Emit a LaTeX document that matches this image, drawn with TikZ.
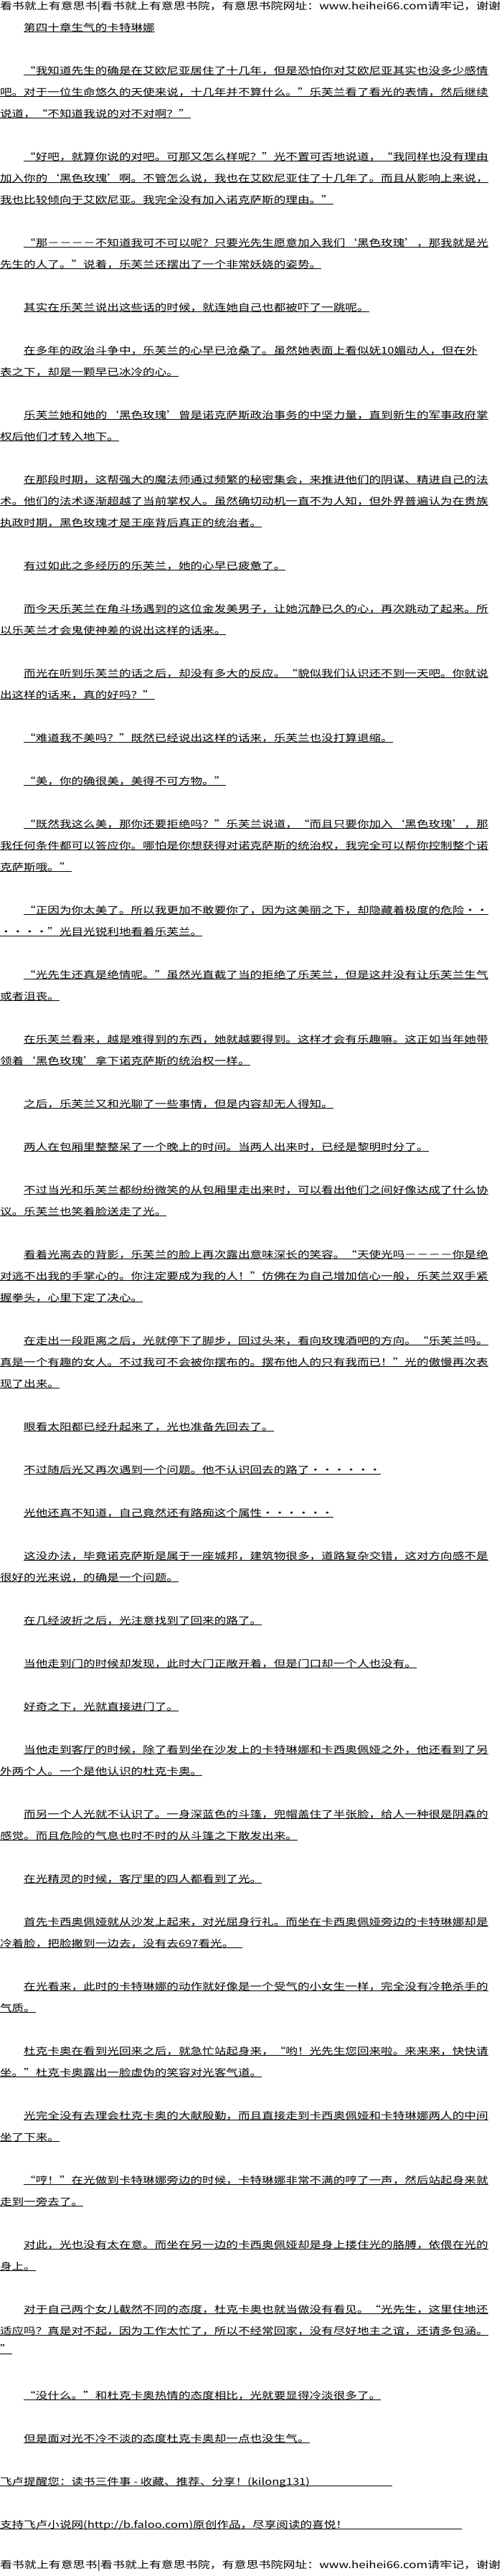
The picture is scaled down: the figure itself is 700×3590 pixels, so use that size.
\documentclass[tikz,border=0pt]{standalone}
\usepackage{fontspec}
\usepackage{graphicx}
\setmainfont{Noto Sans CJK SC}
\newcommand\bodyfont{\fontsize{16.6pt}{20pt}\selectfont}
\newcommand\hdrfont{\fontsize{17.3pt}{20pt}\selectfont}
\newcommand\Qo{\makebox[1em][r]{“}}
\newcommand\Qc{\makebox[1em][l]{”}}
\newcommand\Qso{\makebox[1em][r]{‘}}
\newcommand\Qsc{\makebox[1em][l]{’}}
\newcommand\hdrtext{\resizebox{698pt}{!}{\scalebox{1}[0.8]{看书就上有意思书|看书就上有意思书院，有意思书院网址：www.heihei66.com请牢记，谢谢}}}
\tikzset{
  txt/.style={anchor=base west, inner sep=0pt, outer sep=0pt, font=\bodyfont, text=black},
  hdr/.style={anchor=west, inner sep=0pt, outer sep=0pt, font=\hdrfont, text=black},
  ul/.style={line width=0.9pt, draw=black}
}
% name, x, line index, text
\newcommand\txtline[4]{%
  \node[txt] (#1) at (#2,{103+30*(#3)}) {\scalebox{1}[0.8]{#4}};
  \draw[ul] ([yshift=-1.5pt]#1.base west) -- ([yshift=-1.5pt]#1.base east);
}
% name, x, line index, underline end x, text
\newcommand\txtlineext[5]{%
  \node[txt] (#1) at (#2,{103+30*(#3)}) {\scalebox{1}[0.8]{#5}};
  \coordinate (#1e) at (#4,{103+30*(#3)});
  \draw[ul] ([yshift=-1.5pt]#1.base west) -- ([yshift=-1.5pt]#1e);
}
\begin{document}
\begin{tikzpicture}[x=1pt,y=-1pt]
\fill[white] (0,0) rectangle (700,3590);
\useasboundingbox (0,0) rectangle (700,3590);
\def\ind{33.2}
\node[hdr] (hdrtop) at (0,10) {\hdrtext};
\txtline{title}{\ind}{-2}{第四十章生气的卡特琳娜}
\txtline{l0}{\ind}{0}{\Qo{}我知道先生的确是在艾欧尼亚居住了十几年，但是恐怕你对艾欧尼亚其实也没多少感情}
\txtline{l1}{0}{1}{吧。对于一位生命悠久的天使来说，十几年并不算什么。\Qc{}乐芙兰看了看光的表情，然后继续}
\txtline{l2}{0}{2}{说道，\Qo{}不知道我说的对不对啊？\Qc{}}
\txtline{l4}{\ind}{4}{\Qo{}好吧，就算你说的对吧。可那又怎么样呢？\Qc{}光不置可否地说道，\Qo{}我同样也没有理由}
\txtline{l5}{0}{5}{加入你的\Qso{}黑色玫瑰\Qsc{}啊。不管怎么说，我也在艾欧尼亚住了十几年了。而且从影响上来说，}
\txtline{l6}{0}{6}{我也比较倾向于艾欧尼亚。我完全没有加入诺克萨斯的理由。\Qc{}}
\txtline{l8}{\ind}{8}{\Qo{}那－－－－不知道我可不可以呢？只要光先生愿意加入我们\Qso{}黑色玫瑰\Qsc{}，那我就是光}
\txtline{l9}{0}{9}{先生的人了。\Qc{}说着，乐芙兰还摆出了一个非常妖娆的姿势。}
\txtline{l11}{\ind}{11}{其实在乐芙兰说出这些话的时候，就连她自己也都被吓了一跳呢。}
\txtline{l13}{\ind}{13}{在多年的政治斗争中，乐芙兰的心早已沧桑了。虽然她表面上看似妩10媚动人，但在外}
\txtline{l14}{0}{14}{表之下，却是一颗早已冰冷的心。}
\txtline{l16}{\ind}{16}{乐芙兰她和她的\Qso{}黑色玫瑰\Qsc{}曾是诺克萨斯政治事务的中坚力量，直到新生的军事政府掌}
\txtline{l17}{0}{17}{权后他们才转入地下。}
\txtline{l19}{\ind}{19}{在那段时期，这帮强大的魔法师通过频繁的秘密集会，来推进他们的阴谋、精进自己的法}
\txtline{l20}{0}{20}{术。他们的法术逐渐超越了当前掌权人。虽然确切动机一直不为人知，但外界普遍认为在贵族}
\txtline{l21}{0}{21}{执政时期，黑色玫瑰才是王座背后真正的统治者。}
\txtline{l23}{\ind}{23}{有过如此之多经历的乐芙兰，她的心早已疲惫了。}
\txtline{l25}{\ind}{25}{而今天乐芙兰在角斗场遇到的这位金发美男子，让她沉静已久的心，再次跳动了起来。所}
\txtline{l26}{0}{26}{以乐芙兰才会鬼使神差的说出这样的话来。}
\txtline{l28}{\ind}{28}{而光在听到乐芙兰的话之后，却没有多大的反应。\Qo{}貌似我们认识还不到一天吧。你就说}
\txtline{l29}{0}{29}{出这样的话来，真的好吗？\Qc{}}
\txtline{l31}{\ind}{31}{\Qo{}难道我不美吗？\Qc{}既然已经说出这样的话来，乐芙兰也没打算退缩。}
\txtline{l33}{\ind}{33}{\Qo{}美，你的确很美，美得不可方物。\Qc{}}
\txtline{l35}{\ind}{35}{\Qo{}既然我这么美，那你还要拒绝吗？\Qc{}乐芙兰说道，\Qo{}而且只要你加入\Qso{}黑色玫瑰\Qsc{}，那}
\txtline{l36}{0}{36}{我任何条件都可以答应你。哪怕是你想获得对诺克萨斯的统治权，我完全可以帮你控制整个诺}
\txtline{l37}{0}{37}{克萨斯哦。\Qc{}}
\txtline{l39}{\ind}{39}{\Qo{}正因为你太美了。所以我更加不敢要你了，因为这美丽之下，却隐藏着极度的危险・・}
\txtline{l40}{0}{40}{・・・・\Qc{}光目光锐利地看着乐芙兰。}
\txtline{l42}{\ind}{42}{\Qo{}光先生还真是绝情呢。\Qc{}虽然光直截了当的拒绝了乐芙兰，但是这并没有让乐芙兰生气}
\txtline{l43}{0}{43}{或者沮丧。}
\txtline{l45}{\ind}{45}{在乐芙兰看来，越是难得到的东西，她就越要得到。这样才会有乐趣嘛。这正如当年她带}
\txtline{l46}{0}{46}{领着\Qso{}黑色玫瑰\Qsc{}拿下诺克萨斯的统治权一样。}
\txtline{l48}{\ind}{48}{之后，乐芙兰又和光聊了一些事情，但是内容却无人得知。}
\txtline{l50}{\ind}{50}{两人在包厢里整整呆了一个晚上的时间。当两人出来时，已经是黎明时分了。}
\txtline{l52}{\ind}{52}{不过当光和乐芙兰都纷纷微笑的从包厢里走出来时，可以看出他们之间好像达成了什么协}
\txtline{l53}{0}{53}{议。乐芙兰也笑着脸送走了光。}
\txtline{l55}{\ind}{55}{看着光离去的背影，乐芙兰的脸上再次露出意味深长的笑容。\Qo{}天使光吗－－－－你是绝}
\txtline{l56}{0}{56}{对逃不出我的手掌心的。你注定要成为我的人！\Qc{}仿佛在为自己增加信心一般，乐芙兰双手紧}
\txtline{l57}{0}{57}{握拳头，心里下定了决心。}
\txtline{l59}{\ind}{59}{在走出一段距离之后，光就停下了脚步，回过头来，看向玫瑰酒吧的方向。\Qo{}乐芙兰吗。}
\txtline{l60}{0}{60}{真是一个有趣的女人。不过我可不会被你摆布的。摆布他人的只有我而已！\Qc{}光的傲慢再次表}
\txtline{l61}{0}{61}{现了出来。}
\txtline{l63}{\ind}{63}{眼看太阳都已经升起来了，光也准备先回去了。}
\txtline{l65}{\ind}{65}{不过随后光又再次遇到一个问题。他不认识回去的路了・・・・・・}
\txtline{l67}{\ind}{67}{光他还真不知道，自己竟然还有路痴这个属性・・・・・・}
\txtline{l69}{\ind}{69}{这没办法，毕竟诺克萨斯是属于一座城邦，建筑物很多，道路复杂交错，这对方向感不是}
\txtline{l70}{0}{70}{很好的光来说，的确是一个问题。}
\txtline{l72}{\ind}{72}{在几经波折之后，光注意找到了回来的路了。}
\txtline{l74}{\ind}{74}{当他走到门的时候却发现，此时大门正敞开着，但是门口却一个人也没有。}
\txtline{l76}{\ind}{76}{好奇之下，光就直接进门了。}
\txtline{l78}{\ind}{78}{当他走到客厅的时候，除了看到坐在沙发上的卡特琳娜和卡西奥佩娅之外，他还看到了另}
\txtline{l79}{0}{79}{外两个人。一个是他认识的杜克卡奥。}
\txtline{l81}{\ind}{81}{而另一个人光就不认识了。一身深蓝色的斗篷，兜帽盖住了半张脸，给人一种很是阴森的}
\txtline{l82}{0}{82}{感觉。而且危险的气息也时不时的从斗篷之下散发出来。}
\txtline{l84}{\ind}{84}{在光精灵的时候，客厅里的四人都看到了光。}
\txtline{l86}{\ind}{86}{首先卡西奥佩娅就从沙发上起来，对光屈身行礼。而坐在卡西奥佩娅旁边的卡特琳娜却是}
\txtlineext{l87}{0}{87}{338}{冷着脸，把脸撇到一边去，没有去697看光。}
\txtline{l89}{\ind}{89}{在光看来，此时的卡特琳娜的动作就好像是一个受气的小女生一样，完全没有冷艳杀手的}
\txtline{l90}{0}{90}{气质。}
\txtline{l92}{\ind}{92}{杜克卡奥在看到光回来之后，就急忙站起身来，\Qo{}哟！光先生您回来啦。来来来，快快请}
\txtline{l93}{0}{93}{坐。\Qc{}杜克卡奥露出一脸虚伪的笑容对光客气道。}
\txtline{l95}{\ind}{95}{光完全没有去理会杜克卡奥的大献殷勤，而且直接走到卡西奥佩娅和卡特琳娜两人的中间}
\txtline{l96}{0}{96}{坐了下来。}
\txtline{l98}{\ind}{98}{\Qo{}哼！\Qc{}在光做到卡特琳娜旁边的时候，卡特琳娜非常不满的哼了一声，然后站起身来就}
\txtline{l99}{0}{99}{走到一旁去了。}
\txtline{l101}{\ind}{101}{对此，光也没有太在意。而坐在另一边的卡西奥佩娅却是身上搂住光的胳膊，依偎在光的}
\txtline{l102}{0}{102}{身上。}
\txtline{l104}{\ind}{104}{对于自己两个女儿截然不同的态度，杜克卡奥也就当做没有看见。\Qo{}光先生，这里住地还}
\txtline{l105}{0}{105}{适应吗？真是对不起，因为工作太忙了，所以不经常回家，没有尽好地主之谊，还请多包涵。}
\txtline{l106}{0}{105.85}{\Qc{}}
\txtline{l108}{\ind}{108}{\Qo{}没什么。\Qc{}和杜克卡奥热情的态度相比，光就要显得冷淡很多了。}
\txtline{l110}{\ind}{110}{但是面对光不冷不淡的态度杜克卡奥却一点也没生气。}
\txtlineext{l112}{0}{112}{547}{飞卢提醒您：读书三件事 - 收藏、推荐、分享！(kilong131)}
\txtlineext{l114}{0}{114}{644}{支持飞卢小说网(http://b.faloo.com)原创作品，尽享阅读的喜悦！}
\node[hdr] (hdrbot) at (0,3576) {\hdrtext};
\end{tikzpicture}
\end{document}
